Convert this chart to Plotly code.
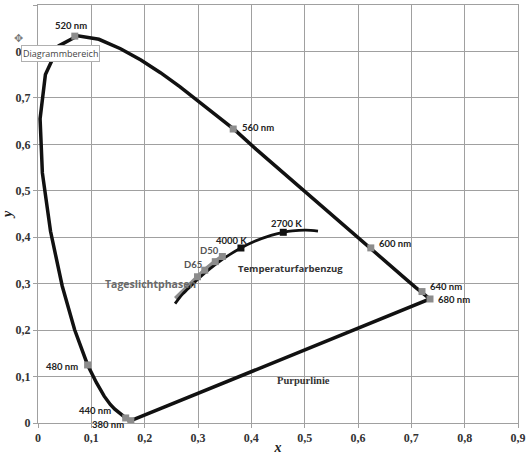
import plotly.graph_objects as go

# Spektralfarbenzug (Wellenlaengen in nm)
locus_nm = [380, 400, 420, 430, 440, 450, 460, 465, 470, 475, 480, 485, 490, 495, 500, 505,
            510, 515, 520, 525, 530, 535, 540, 545, 550, 555, 560, 565, 570, 575, 580, 585,
            590, 595, 600, 605, 610, 615, 620, 630, 640, 650, 660, 680]
locus_x = [0.1741, 0.1733, 0.1714, 0.1689, 0.1644, 0.1566, 0.1440, 0.1355, 0.1241, 0.1096,
           0.0930, 0.0687, 0.0454, 0.0235, 0.0082, 0.0039, 0.0139, 0.0389, 0.0743, 0.1142,
           0.1547, 0.1929, 0.2296, 0.2658, 0.3016, 0.3373, 0.3700, 0.4087, 0.4441, 0.4788,
           0.5125, 0.5448, 0.5752, 0.6029, 0.6250, 0.6482, 0.6658, 0.6801, 0.6915, 0.7079,
           0.7190, 0.7260, 0.7300, 0.7347]
locus_y = [0.0050, 0.0048, 0.0051, 0.0069, 0.0109, 0.0177, 0.0297, 0.0399, 0.0578, 0.0868,
           0.1250, 0.2007, 0.2950, 0.4127, 0.5384, 0.6548, 0.7502, 0.8120, 0.8338, 0.8262,
           0.8059, 0.7816, 0.7543, 0.7243, 0.6923, 0.6589, 0.6300, 0.5896, 0.5547, 0.5202,
           0.4866, 0.4544, 0.4242, 0.3965, 0.3760, 0.3514, 0.3340, 0.3197, 0.3083, 0.2920,
           0.2820, 0.2740, 0.2700, 0.2670]

# beschriftete Wellenlaengen
mark_nm = [380, 440, 480, 520, 560, 600, 640, 680]
mark_x = [0.1741, 0.1644, 0.0930, 0.0690, 0.3660, 0.6240, 0.7200, 0.7350]
mark_y = [0.0050, 0.0109, 0.1250, 0.8330, 0.6330, 0.3770, 0.2830, 0.2670]
mark_text = ["380 nm", "440 nm", "480 nm", "520 nm", "560 nm", "600 nm", "640 nm", "680 nm"]

# Temperaturfarbenzug (Planck)
planck_x = [0.2570, 0.2637, 0.2715, 0.2807, 0.2952, 0.3064, 0.3221, 0.3451, 0.3608, 0.3805,
            0.4053, 0.4369, 0.4599, 0.4770, 0.5018, 0.5250]
planck_y = [0.2570, 0.2673, 0.2780, 0.2883, 0.3048, 0.3166, 0.3318, 0.3516, 0.3636, 0.3768,
            0.3907, 0.4041, 0.4106, 0.4137, 0.4153, 0.4133]
planck_mark_x = [0.3805, 0.4599]
planck_mark_y = [0.3768, 0.4106]
planck_mark_text = ["4000 K", "2700 K"]

# Tageslichtphasen
day_x = [0.2580, 0.2700, 0.2850, 0.2990, 0.3127, 0.3324, 0.3457]
day_y = [0.2680, 0.2810, 0.2990, 0.3149, 0.3290, 0.3474, 0.3585]
day_mark_x = [0.2990, 0.3127, 0.3324, 0.3457]
day_mark_y = [0.3149, 0.3290, 0.3474, 0.3585]
day_mark_text = ["", "D65", "", "D50"]

tick_vals = [0, 0.1, 0.2, 0.3, 0.4, 0.5, 0.6, 0.7, 0.8, 0.9]
tick_text = ["0", "0,1", "0,2", "0,3", "0,4", "0,5", "0,6", "0,7", "0,8", "0,9"]

fig = go.Figure()

# Purpurlinie schliesst den Zug
fig.add_trace(go.Scatter(x=locus_x + [locus_x[0]], y=locus_y + [locus_y[0]], mode="lines",
                         line=dict(color="#111111", width=3.5), hoverinfo="skip"))
fig.add_trace(go.Scatter(x=mark_x, y=mark_y, mode="markers",
                         marker=dict(symbol="square", size=7, color="#8c8c8c")))

fig.add_trace(go.Scatter(x=day_x, y=day_y, mode="lines",
                         line=dict(color="#8c8c8c", width=4.5)))
fig.add_trace(go.Scatter(x=planck_x, y=planck_y, mode="lines",
                         line=dict(color="#111111", width=2.8, shape="spline")))
fig.add_trace(go.Scatter(x=day_mark_x, y=day_mark_y, mode="markers",
                         marker=dict(symbol="square", size=7, color="#8c8c8c")))
fig.add_trace(go.Scatter(x=planck_mark_x, y=planck_mark_y, mode="markers",
                         marker=dict(symbol="square", size=7, color="#111111")))

label_font = dict(family="Lato, sans-serif", size=9.5, color="#222222", weight="bold")
# Versatz der Beschriftungen (Pixel)
label_pos = {
    "380 nm": (-23, -4, "center"), "440 nm": (-31, 7, "center"), "480 nm": (-8, -2, "right"),
    "520 nm": (-4, 11, "center"), "560 nm": (7, 2, "left"), "600 nm": (6, 4, "left"),
    "640 nm": (6, 5, "left"), "680 nm": (6, -1, "left"),
}
annotations = []
for x, y, t in zip(mark_x, mark_y, mark_text):
    dx, dy, anc = label_pos[t]
    annotations.append(dict(x=x, y=y, text=t, showarrow=False, xanchor=anc,
                            xshift=dx, yshift=dy, font=label_font))
for x, y, t, dx, dy in zip(planck_mark_x, planck_mark_y, planck_mark_text, [-9, 3], [8, 9]):
    annotations.append(dict(x=x, y=y, text=t, showarrow=False, xanchor="center",
                            xshift=dx, yshift=dy, font=label_font))
for x, y, t in zip(day_mark_x, day_mark_y, day_mark_text):
    if t:
        annotations.append(dict(x=x, y=y, text=t, showarrow=False, xanchor="right",
                                xshift=-1, yshift=6, font=dict(label_font, color="#555555")))

annotations += [
    dict(x=0.300, y=0.300, text="Tageslichtphasen", showarrow=False, xanchor="right",
         font=dict(family="Open Sans, sans-serif", size=10.5, color="#6a6a6a", weight="bold")),
    dict(x=0.372, y=0.332, text="Temperaturfarbenzug", showarrow=False, xanchor="left",
         font=dict(family="Open Sans, sans-serif", size=9.5, color="#333333", weight="bold")),
    dict(x=0.497, y=0.092, text="<b>Purpurlinie</b>", showarrow=False, xanchor="center",
         font=dict(family="Liberation Serif, serif", size=10.5, color="#333333")),
    dict(x=-0.036, y=0.904, xref="paper", yref="paper", text="Diagrammbereich", showarrow=False,
         xanchor="left", yanchor="top", bgcolor="white", bordercolor="#b0b0b0", borderwidth=1,
         borderpad=1, font=dict(family="Open Sans, sans-serif", size=9, color="#444444")),
    dict(x=-0.04, y=0.945, xref="paper", yref="paper", text="✥", showarrow=False,
         xanchor="center", font=dict(size=11, color="#777777")),
]

axis_common = dict(range=[0, 0.9], tickvals=tick_vals, ticktext=tick_text, showgrid=True,
                   gridcolor="#a0a0a0", gridwidth=1, zeroline=False, showline=True,
                   linecolor="#a0a0a0", ticks="outside", ticklen=4, tickcolor="#a0a0a0",
                   tickfont=dict(family="Liberation Serif, serif", size=12, color="#333333",
                                 weight="bold"),
                   mirror=True, fixedrange=True, automargin=False)

fig.update_layout(
    width=528, height=455, showlegend=False,
    margin=dict(l=38, r=10, t=5, b=32),
    plot_bgcolor="white", paper_bgcolor="white",
    annotations=annotations,
    xaxis=dict(axis_common, title=dict(text="<b><i>x</i></b>", standoff=0,
                                       font=dict(family="Liberation Serif, serif", size=14, color="#222222"))),
    yaxis=dict(axis_common, title=dict(text="<b><i>y</i></b>", standoff=2,
                                       font=dict(family="Liberation Serif, serif", size=14, color="#222222"))),
)

# Seitenrand des Browsers entfernen, damit die Grafik bei (0, 0) beginnt
fig.write_html("out.html", config={"displayModeBar": False},
               post_script="document.body.style.margin='0';")
